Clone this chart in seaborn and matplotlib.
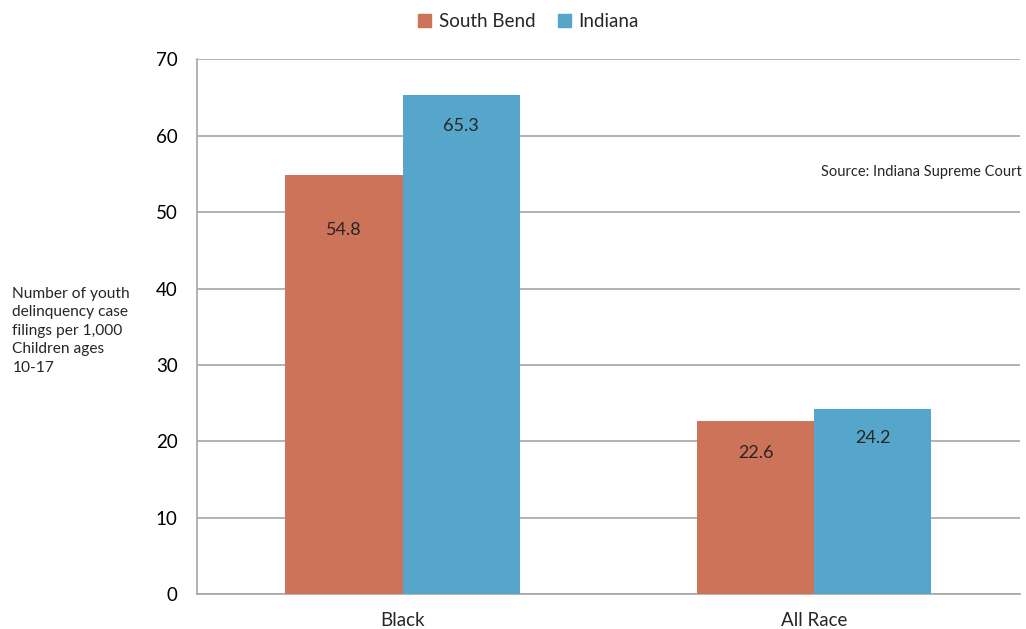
import numpy as np
import pandas as pd
import matplotlib.pyplot as plt
import seaborn as sns

# data
groups = ['Black', 'All Race']
areas = ['South Bend', 'Indiana']
south_bend = [54.8, 22.6]
indiana = [65.3, 24.2]

df = pd.DataFrame({
    'Group': groups * 2,
    'Area': [areas[0]] * 2 + [areas[1]] * 2,
    'Value': south_bend + indiana,
})

sns.set_style('white')
plt.rcParams['font.family'] = ['Lato', 'DejaVu Sans']

fig = plt.figure(figsize=(10.26, 6.29), dpi=100)
ax = fig.add_axes([0.192, 0.0556, 0.802, 0.850])

palette = {'South Bend': '#CC735A', 'Indiana': '#56A6CC'}
sns.barplot(data=df, x='Group', y='Value', hue='Area', palette=palette,
            width=0.57, saturation=1, linewidth=0, ax=ax, legend=False, zorder=3)

ax.set_xlim(-0.5, 1.5)
ax.set_ylim(0, 70)
ax.set_yticks(range(0, 71, 10))
ax.yaxis.grid(True, color='#A6A6A6', linewidth=1.2, zorder=0)
ax.set_axisbelow(True)
for s in ['top', 'right']:
    ax.spines[s].set_visible(False)
for s in ['left', 'bottom']:
    ax.spines[s].set_color('#A6A6A6')
    ax.spines[s].set_linewidth(1.2)

ax.tick_params(axis='y', labelsize=13.5, length=6, color='#A6A6A6', width=1.2, pad=8, colors='#A6A6A6', labelcolor='black')
ax.set_xticks([0, 1])
ax.set_xticklabels(groups)
ax.tick_params(axis='x', labelsize=13.5, length=0, pad=13)
ax.set_xticks([-0.5, 0.5, 1.5], minor=True)
ax.tick_params(axis='x', which='minor', length=6, color='#A6A6A6', width=1.2)
ax.set_xlabel('')
ax.set_ylabel('')

# value labels inside the bars
offsets = [-55, -31, -32, -29]
for cont, off_pair in zip(ax.containers, [offsets[0:3:2], offsets[1:4:2]]):
    for bar, off in zip(cont, off_pair):
        h = bar.get_height()
        ax.annotate(f'{h:.1f}', (bar.get_x() + bar.get_width() / 2, h),
                    xytext=(0, off), textcoords='offset pixels',
                    ha='center', va='center', fontsize=13)

# legend
handles = [plt.Rectangle((0, 0), 1, 1, color=palette[a]) for a in areas]
fig.legend(handles, areas, loc='center', bbox_to_anchor=(0.515, 0.966), ncol=2,
           frameon=False, fontsize=13.5, handlelength=0.7, handleheight=0.7,
           handletextpad=0.4, columnspacing=1.2)

fig.text(0.012, 0.474, 'Number of youth\ndelinquency case\nfilings per 1,000\nChildren ages\n10-17',
         ha='left', va='center', fontsize=11.2, linespacing=1.4)
fig.text(0.996, 0.726, 'Source: Indiana Supreme Court', ha='right', va='center', fontsize=10.5)

fig.savefig('out.png', dpi=100)
